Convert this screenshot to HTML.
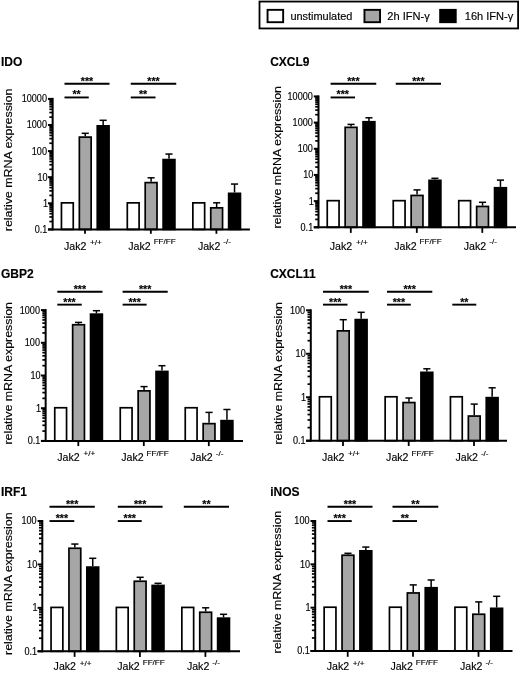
<!DOCTYPE html><html><head><meta charset="utf-8"><title>Figure</title><style>html,body{margin:0;padding:0;background:#fff}svg{display:block}text{font-family:"Liberation Sans", sans-serif;fill:#000;stroke:#000;stroke-width:0.15px}</style></head><body>
<svg width="520" height="673" viewBox="0 0 520 673">
<rect width="520" height="673" fill="#fff"/>
<rect x="259.5" y="1.55" width="258.6" height="26.9" fill="#fff" stroke="#000" stroke-width="1.8"/>
<rect x="267.55" y="9.85" width="15.6" height="12.35" fill="#fff" stroke="#000" stroke-width="1.9"/>
<rect x="364.45" y="9.85" width="15.6" height="12.35" fill="#a6a6a6" stroke="#000" stroke-width="1.9"/>
<rect x="440.15" y="9.85" width="15.6" height="12.35" fill="#000" stroke="#000" stroke-width="1.9"/>
<text x="290.4" y="20.2" font-size="11" textLength="62" lengthAdjust="spacingAndGlyphs">unstimulated</text>
<text x="387.3" y="20.2" font-size="11" textLength="42.5" lengthAdjust="spacingAndGlyphs">2h IFN-γ</text>
<text x="464.8" y="20.2" font-size="11" textLength="48.5" lengthAdjust="spacingAndGlyphs">16h IFN-γ</text>
<text transform="translate(0.8999999999999999,66.2) scale(0.97,1)" font-size="12.4" font-weight="bold">IDO</text>
<text transform="translate(12.2,231.2) rotate(-90)" font-size="11.3" textLength="142.6" lengthAdjust="spacingAndGlyphs">relative mRNA expression</text>
<line x1="47.95" y1="98.90" x2="52.65" y2="98.90" stroke="#000" stroke-width="2"/>
<text transform="translate(46.95,102.30) scale(0.9,1)" font-size="10.1" text-anchor="end">10000</text>
<line x1="49.35" y1="117.14" x2="52.65" y2="117.14" stroke="#000" stroke-width="1.7"/>
<line x1="49.35" y1="112.55" x2="52.65" y2="112.55" stroke="#000" stroke-width="1.7"/>
<line x1="49.35" y1="109.29" x2="52.65" y2="109.29" stroke="#000" stroke-width="1.7"/>
<line x1="49.35" y1="106.76" x2="52.65" y2="106.76" stroke="#000" stroke-width="1.7"/>
<line x1="49.35" y1="104.69" x2="52.65" y2="104.69" stroke="#000" stroke-width="1.7"/>
<line x1="49.35" y1="102.94" x2="52.65" y2="102.94" stroke="#000" stroke-width="1.7"/>
<line x1="49.35" y1="101.43" x2="52.65" y2="101.43" stroke="#000" stroke-width="1.7"/>
<line x1="49.35" y1="100.09" x2="52.65" y2="100.09" stroke="#000" stroke-width="1.7"/>
<line x1="47.95" y1="125.00" x2="52.65" y2="125.00" stroke="#000" stroke-width="2"/>
<text transform="translate(46.95,128.40) scale(0.9,1)" font-size="10.1" text-anchor="end">1000</text>
<line x1="49.35" y1="143.24" x2="52.65" y2="143.24" stroke="#000" stroke-width="1.7"/>
<line x1="49.35" y1="138.65" x2="52.65" y2="138.65" stroke="#000" stroke-width="1.7"/>
<line x1="49.35" y1="135.39" x2="52.65" y2="135.39" stroke="#000" stroke-width="1.7"/>
<line x1="49.35" y1="132.86" x2="52.65" y2="132.86" stroke="#000" stroke-width="1.7"/>
<line x1="49.35" y1="130.79" x2="52.65" y2="130.79" stroke="#000" stroke-width="1.7"/>
<line x1="49.35" y1="129.04" x2="52.65" y2="129.04" stroke="#000" stroke-width="1.7"/>
<line x1="49.35" y1="127.53" x2="52.65" y2="127.53" stroke="#000" stroke-width="1.7"/>
<line x1="49.35" y1="126.19" x2="52.65" y2="126.19" stroke="#000" stroke-width="1.7"/>
<line x1="47.95" y1="151.10" x2="52.65" y2="151.10" stroke="#000" stroke-width="2"/>
<text transform="translate(46.95,154.50) scale(0.9,1)" font-size="10.1" text-anchor="end">100</text>
<line x1="49.35" y1="169.34" x2="52.65" y2="169.34" stroke="#000" stroke-width="1.7"/>
<line x1="49.35" y1="164.75" x2="52.65" y2="164.75" stroke="#000" stroke-width="1.7"/>
<line x1="49.35" y1="161.49" x2="52.65" y2="161.49" stroke="#000" stroke-width="1.7"/>
<line x1="49.35" y1="158.96" x2="52.65" y2="158.96" stroke="#000" stroke-width="1.7"/>
<line x1="49.35" y1="156.89" x2="52.65" y2="156.89" stroke="#000" stroke-width="1.7"/>
<line x1="49.35" y1="155.14" x2="52.65" y2="155.14" stroke="#000" stroke-width="1.7"/>
<line x1="49.35" y1="153.63" x2="52.65" y2="153.63" stroke="#000" stroke-width="1.7"/>
<line x1="49.35" y1="152.29" x2="52.65" y2="152.29" stroke="#000" stroke-width="1.7"/>
<line x1="47.95" y1="177.20" x2="52.65" y2="177.20" stroke="#000" stroke-width="2"/>
<text transform="translate(47.55,180.60) scale(0.9,1)" font-size="10.1" text-anchor="end">10</text>
<line x1="49.35" y1="195.44" x2="52.65" y2="195.44" stroke="#000" stroke-width="1.7"/>
<line x1="49.35" y1="190.85" x2="52.65" y2="190.85" stroke="#000" stroke-width="1.7"/>
<line x1="49.35" y1="187.59" x2="52.65" y2="187.59" stroke="#000" stroke-width="1.7"/>
<line x1="49.35" y1="185.06" x2="52.65" y2="185.06" stroke="#000" stroke-width="1.7"/>
<line x1="49.35" y1="182.99" x2="52.65" y2="182.99" stroke="#000" stroke-width="1.7"/>
<line x1="49.35" y1="181.24" x2="52.65" y2="181.24" stroke="#000" stroke-width="1.7"/>
<line x1="49.35" y1="179.73" x2="52.65" y2="179.73" stroke="#000" stroke-width="1.7"/>
<line x1="49.35" y1="178.39" x2="52.65" y2="178.39" stroke="#000" stroke-width="1.7"/>
<line x1="47.95" y1="203.30" x2="52.65" y2="203.30" stroke="#000" stroke-width="2"/>
<text transform="translate(47.95,206.70) scale(0.9,1)" font-size="10.1" text-anchor="end">1</text>
<line x1="49.35" y1="221.54" x2="52.65" y2="221.54" stroke="#000" stroke-width="1.7"/>
<line x1="49.35" y1="216.95" x2="52.65" y2="216.95" stroke="#000" stroke-width="1.7"/>
<line x1="49.35" y1="213.69" x2="52.65" y2="213.69" stroke="#000" stroke-width="1.7"/>
<line x1="49.35" y1="211.16" x2="52.65" y2="211.16" stroke="#000" stroke-width="1.7"/>
<line x1="49.35" y1="209.09" x2="52.65" y2="209.09" stroke="#000" stroke-width="1.7"/>
<line x1="49.35" y1="207.34" x2="52.65" y2="207.34" stroke="#000" stroke-width="1.7"/>
<line x1="49.35" y1="205.83" x2="52.65" y2="205.83" stroke="#000" stroke-width="1.7"/>
<line x1="49.35" y1="204.49" x2="52.65" y2="204.49" stroke="#000" stroke-width="1.7"/>
<line x1="47.95" y1="229.40" x2="52.65" y2="229.40" stroke="#000" stroke-width="2"/>
<text transform="translate(47.35,232.80) scale(0.9,1)" font-size="10.1" text-anchor="end">0.1</text>
<rect x="61.45" y="202.85" width="11.8" height="26.55" fill="#fff" stroke="#000" stroke-width="1.7"/>
<line x1="85.25" y1="133.30" x2="85.25" y2="136.25" stroke="#000" stroke-width="1.5"/>
<line x1="81.70" y1="133.30" x2="88.80" y2="133.30" stroke="#000" stroke-width="1.5"/>
<rect x="79.35" y="137.10" width="11.8" height="92.30" fill="#a6a6a6" stroke="#000" stroke-width="1.7"/>
<line x1="103.15" y1="120.30" x2="103.15" y2="125.00" stroke="#000" stroke-width="1.5"/>
<line x1="99.60" y1="120.30" x2="106.70" y2="120.30" stroke="#000" stroke-width="1.5"/>
<rect x="97.25" y="125.85" width="11.8" height="103.55" fill="#000" stroke="#000" stroke-width="1.7"/>
<line x1="85.00" y1="229.4" x2="85.00" y2="233.8" stroke="#000" stroke-width="1.8"/>
<text x="64.00" y="249.7" font-size="10.6">Jak2</text>
<text transform="translate(90.10,244.95) scale(1.03,1)" font-size="7.9">+/+</text>
<rect x="127.30" y="202.85" width="11.8" height="26.55" fill="#fff" stroke="#000" stroke-width="1.7"/>
<line x1="151.10" y1="177.80" x2="151.10" y2="181.75" stroke="#000" stroke-width="1.5"/>
<line x1="147.55" y1="177.80" x2="154.65" y2="177.80" stroke="#000" stroke-width="1.5"/>
<rect x="145.20" y="182.60" width="11.8" height="46.80" fill="#a6a6a6" stroke="#000" stroke-width="1.7"/>
<line x1="169.00" y1="154.05" x2="169.00" y2="158.75" stroke="#000" stroke-width="1.5"/>
<line x1="165.45" y1="154.05" x2="172.55" y2="154.05" stroke="#000" stroke-width="1.5"/>
<rect x="163.10" y="159.60" width="11.8" height="69.80" fill="#000" stroke="#000" stroke-width="1.7"/>
<line x1="150.85" y1="229.4" x2="150.85" y2="233.8" stroke="#000" stroke-width="1.8"/>
<text x="128.25" y="249.7" font-size="10.6">Jak2</text>
<text transform="translate(153.65,244.45) scale(1.03,1)" font-size="7.9">FF/FF</text>
<rect x="192.85" y="202.85" width="11.8" height="26.55" fill="#fff" stroke="#000" stroke-width="1.7"/>
<line x1="216.65" y1="202.80" x2="216.65" y2="207.00" stroke="#000" stroke-width="1.5"/>
<line x1="213.10" y1="202.80" x2="220.20" y2="202.80" stroke="#000" stroke-width="1.5"/>
<rect x="210.75" y="207.85" width="11.8" height="21.55" fill="#a6a6a6" stroke="#000" stroke-width="1.7"/>
<line x1="234.55" y1="184.05" x2="234.55" y2="192.50" stroke="#000" stroke-width="1.5"/>
<line x1="231.00" y1="184.05" x2="238.10" y2="184.05" stroke="#000" stroke-width="1.5"/>
<rect x="228.65" y="193.35" width="11.8" height="36.05" fill="#000" stroke="#000" stroke-width="1.7"/>
<line x1="216.40" y1="229.4" x2="216.40" y2="233.8" stroke="#000" stroke-width="1.8"/>
<text x="197.90" y="249.7" font-size="10.6">Jak2</text>
<text transform="translate(223.30,244.45) scale(1.03,1)" font-size="7.9">-/-</text>
<line x1="52.65" y1="97.9" x2="52.65" y2="230.4" stroke="#000" stroke-width="2"/>
<line x1="47.95" y1="229.4" x2="249.9" y2="229.4" stroke="#000" stroke-width="2"/>
<line x1="64.5" y1="83.7" x2="109.5" y2="83.7" stroke="#000" stroke-width="1.9"/>
<text x="87.00" y="84.60" font-size="10.6" font-weight="bold" text-anchor="middle">***</text>
<line x1="64.5" y1="97.45" x2="88.75" y2="97.45" stroke="#000" stroke-width="1.9"/>
<text x="76.62" y="98.35" font-size="10.6" font-weight="bold" text-anchor="middle">**</text>
<line x1="130.75" y1="83.7" x2="176.25" y2="83.7" stroke="#000" stroke-width="1.9"/>
<text x="153.50" y="84.60" font-size="10.6" font-weight="bold" text-anchor="middle">***</text>
<line x1="130.75" y1="97.45" x2="155.5" y2="97.45" stroke="#000" stroke-width="1.9"/>
<text x="143.12" y="98.35" font-size="10.6" font-weight="bold" text-anchor="middle">**</text>
<text transform="translate(270.15,66.2) scale(0.97,1)" font-size="12.4" font-weight="bold">CXCL9</text>
<text transform="translate(281.3,228.6) rotate(-90)" font-size="11.3" textLength="142.6" lengthAdjust="spacingAndGlyphs">relative mRNA expression</text>
<line x1="313.80" y1="96.40" x2="318.5" y2="96.40" stroke="#000" stroke-width="2"/>
<text transform="translate(312.80,99.80) scale(0.9,1)" font-size="10.1" text-anchor="end">10000</text>
<line x1="315.20" y1="114.70" x2="318.5" y2="114.70" stroke="#000" stroke-width="1.7"/>
<line x1="315.20" y1="110.09" x2="318.5" y2="110.09" stroke="#000" stroke-width="1.7"/>
<line x1="315.20" y1="106.82" x2="318.5" y2="106.82" stroke="#000" stroke-width="1.7"/>
<line x1="315.20" y1="104.28" x2="318.5" y2="104.28" stroke="#000" stroke-width="1.7"/>
<line x1="315.20" y1="102.21" x2="318.5" y2="102.21" stroke="#000" stroke-width="1.7"/>
<line x1="315.20" y1="100.46" x2="318.5" y2="100.46" stroke="#000" stroke-width="1.7"/>
<line x1="315.20" y1="98.94" x2="318.5" y2="98.94" stroke="#000" stroke-width="1.7"/>
<line x1="315.20" y1="97.60" x2="318.5" y2="97.60" stroke="#000" stroke-width="1.7"/>
<line x1="313.80" y1="122.58" x2="318.5" y2="122.58" stroke="#000" stroke-width="2"/>
<text transform="translate(312.80,125.98) scale(0.9,1)" font-size="10.1" text-anchor="end">1000</text>
<line x1="315.20" y1="140.88" x2="318.5" y2="140.88" stroke="#000" stroke-width="1.7"/>
<line x1="315.20" y1="136.27" x2="318.5" y2="136.27" stroke="#000" stroke-width="1.7"/>
<line x1="315.20" y1="133.00" x2="318.5" y2="133.00" stroke="#000" stroke-width="1.7"/>
<line x1="315.20" y1="130.46" x2="318.5" y2="130.46" stroke="#000" stroke-width="1.7"/>
<line x1="315.20" y1="128.39" x2="318.5" y2="128.39" stroke="#000" stroke-width="1.7"/>
<line x1="315.20" y1="126.64" x2="318.5" y2="126.64" stroke="#000" stroke-width="1.7"/>
<line x1="315.20" y1="125.12" x2="318.5" y2="125.12" stroke="#000" stroke-width="1.7"/>
<line x1="315.20" y1="123.78" x2="318.5" y2="123.78" stroke="#000" stroke-width="1.7"/>
<line x1="313.80" y1="148.76" x2="318.5" y2="148.76" stroke="#000" stroke-width="2"/>
<text transform="translate(312.80,152.16) scale(0.9,1)" font-size="10.1" text-anchor="end">100</text>
<line x1="315.20" y1="167.06" x2="318.5" y2="167.06" stroke="#000" stroke-width="1.7"/>
<line x1="315.20" y1="162.45" x2="318.5" y2="162.45" stroke="#000" stroke-width="1.7"/>
<line x1="315.20" y1="159.18" x2="318.5" y2="159.18" stroke="#000" stroke-width="1.7"/>
<line x1="315.20" y1="156.64" x2="318.5" y2="156.64" stroke="#000" stroke-width="1.7"/>
<line x1="315.20" y1="154.57" x2="318.5" y2="154.57" stroke="#000" stroke-width="1.7"/>
<line x1="315.20" y1="152.82" x2="318.5" y2="152.82" stroke="#000" stroke-width="1.7"/>
<line x1="315.20" y1="151.30" x2="318.5" y2="151.30" stroke="#000" stroke-width="1.7"/>
<line x1="315.20" y1="149.96" x2="318.5" y2="149.96" stroke="#000" stroke-width="1.7"/>
<line x1="313.80" y1="174.94" x2="318.5" y2="174.94" stroke="#000" stroke-width="2"/>
<text transform="translate(313.40,178.34) scale(0.9,1)" font-size="10.1" text-anchor="end">10</text>
<line x1="315.20" y1="193.24" x2="318.5" y2="193.24" stroke="#000" stroke-width="1.7"/>
<line x1="315.20" y1="188.63" x2="318.5" y2="188.63" stroke="#000" stroke-width="1.7"/>
<line x1="315.20" y1="185.36" x2="318.5" y2="185.36" stroke="#000" stroke-width="1.7"/>
<line x1="315.20" y1="182.82" x2="318.5" y2="182.82" stroke="#000" stroke-width="1.7"/>
<line x1="315.20" y1="180.75" x2="318.5" y2="180.75" stroke="#000" stroke-width="1.7"/>
<line x1="315.20" y1="179.00" x2="318.5" y2="179.00" stroke="#000" stroke-width="1.7"/>
<line x1="315.20" y1="177.48" x2="318.5" y2="177.48" stroke="#000" stroke-width="1.7"/>
<line x1="315.20" y1="176.14" x2="318.5" y2="176.14" stroke="#000" stroke-width="1.7"/>
<line x1="313.80" y1="201.12" x2="318.5" y2="201.12" stroke="#000" stroke-width="2"/>
<text transform="translate(313.80,204.52) scale(0.9,1)" font-size="10.1" text-anchor="end">1</text>
<line x1="315.20" y1="219.42" x2="318.5" y2="219.42" stroke="#000" stroke-width="1.7"/>
<line x1="315.20" y1="214.81" x2="318.5" y2="214.81" stroke="#000" stroke-width="1.7"/>
<line x1="315.20" y1="211.54" x2="318.5" y2="211.54" stroke="#000" stroke-width="1.7"/>
<line x1="315.20" y1="209.00" x2="318.5" y2="209.00" stroke="#000" stroke-width="1.7"/>
<line x1="315.20" y1="206.93" x2="318.5" y2="206.93" stroke="#000" stroke-width="1.7"/>
<line x1="315.20" y1="205.18" x2="318.5" y2="205.18" stroke="#000" stroke-width="1.7"/>
<line x1="315.20" y1="203.66" x2="318.5" y2="203.66" stroke="#000" stroke-width="1.7"/>
<line x1="315.20" y1="202.32" x2="318.5" y2="202.32" stroke="#000" stroke-width="1.7"/>
<line x1="313.80" y1="227.30" x2="318.5" y2="227.30" stroke="#000" stroke-width="2"/>
<text transform="translate(313.20,230.70) scale(0.9,1)" font-size="10.1" text-anchor="end">0.1</text>
<rect x="327.25" y="200.67" width="11.8" height="26.63" fill="#fff" stroke="#000" stroke-width="1.7"/>
<line x1="351.05" y1="124.40" x2="351.05" y2="126.50" stroke="#000" stroke-width="1.5"/>
<line x1="347.50" y1="124.40" x2="354.60" y2="124.40" stroke="#000" stroke-width="1.5"/>
<rect x="345.15" y="127.35" width="11.8" height="99.95" fill="#a6a6a6" stroke="#000" stroke-width="1.7"/>
<line x1="368.95" y1="117.80" x2="368.95" y2="120.90" stroke="#000" stroke-width="1.5"/>
<line x1="365.40" y1="117.80" x2="372.50" y2="117.80" stroke="#000" stroke-width="1.5"/>
<rect x="363.05" y="121.75" width="11.8" height="105.55" fill="#000" stroke="#000" stroke-width="1.7"/>
<line x1="350.80" y1="227.3" x2="350.80" y2="232.9" stroke="#000" stroke-width="1.8"/>
<text x="329.80" y="249.7" font-size="10.6">Jak2</text>
<text transform="translate(355.90,244.95) scale(1.03,1)" font-size="7.9">+/+</text>
<rect x="393.25" y="200.67" width="11.8" height="26.63" fill="#fff" stroke="#000" stroke-width="1.7"/>
<line x1="417.05" y1="189.90" x2="417.05" y2="194.60" stroke="#000" stroke-width="1.5"/>
<line x1="413.50" y1="189.90" x2="420.60" y2="189.90" stroke="#000" stroke-width="1.5"/>
<rect x="411.15" y="195.45" width="11.8" height="31.85" fill="#a6a6a6" stroke="#000" stroke-width="1.7"/>
<line x1="434.95" y1="178.30" x2="434.95" y2="179.50" stroke="#000" stroke-width="1.5"/>
<line x1="431.40" y1="178.30" x2="438.50" y2="178.30" stroke="#000" stroke-width="1.5"/>
<rect x="429.05" y="180.35" width="11.8" height="46.95" fill="#000" stroke="#000" stroke-width="1.7"/>
<line x1="416.80" y1="227.3" x2="416.80" y2="232.9" stroke="#000" stroke-width="1.8"/>
<text x="394.20" y="249.7" font-size="10.6">Jak2</text>
<text transform="translate(419.60,244.45) scale(1.03,1)" font-size="7.9">FF/FF</text>
<rect x="458.75" y="200.67" width="11.8" height="26.63" fill="#fff" stroke="#000" stroke-width="1.7"/>
<line x1="482.55" y1="202.30" x2="482.55" y2="205.60" stroke="#000" stroke-width="1.5"/>
<line x1="479.00" y1="202.30" x2="486.10" y2="202.30" stroke="#000" stroke-width="1.5"/>
<rect x="476.65" y="206.45" width="11.8" height="20.85" fill="#a6a6a6" stroke="#000" stroke-width="1.7"/>
<line x1="500.45" y1="180.10" x2="500.45" y2="186.90" stroke="#000" stroke-width="1.5"/>
<line x1="496.90" y1="180.10" x2="504.00" y2="180.10" stroke="#000" stroke-width="1.5"/>
<rect x="494.55" y="187.75" width="11.8" height="39.55" fill="#000" stroke="#000" stroke-width="1.7"/>
<line x1="482.30" y1="227.3" x2="482.30" y2="232.9" stroke="#000" stroke-width="1.8"/>
<text x="463.80" y="249.7" font-size="10.6">Jak2</text>
<text transform="translate(489.20,244.45) scale(1.03,1)" font-size="7.9">-/-</text>
<line x1="318.5" y1="95.4" x2="318.5" y2="228.3" stroke="#000" stroke-width="2"/>
<line x1="313.80" y1="227.3" x2="516" y2="227.3" stroke="#000" stroke-width="2"/>
<line x1="330.6" y1="83.7" x2="376.25" y2="83.7" stroke="#000" stroke-width="1.9"/>
<text x="353.43" y="84.60" font-size="10.6" font-weight="bold" text-anchor="middle">***</text>
<line x1="330.6" y1="97.45" x2="355" y2="97.45" stroke="#000" stroke-width="1.9"/>
<text x="342.80" y="98.35" font-size="10.6" font-weight="bold" text-anchor="middle">***</text>
<line x1="395.75" y1="83.7" x2="441" y2="83.7" stroke="#000" stroke-width="1.9"/>
<text x="418.38" y="84.60" font-size="10.6" font-weight="bold" text-anchor="middle">***</text>
<text transform="translate(0.8999999999999999,277.7) scale(0.97,1)" font-size="12.4" font-weight="bold">GBP2</text>
<text transform="translate(12.4,444.6) rotate(-90)" font-size="11.3" textLength="142.6" lengthAdjust="spacingAndGlyphs">relative mRNA expression</text>
<line x1="40.95" y1="310.10" x2="45.65" y2="310.10" stroke="#000" stroke-width="2"/>
<text transform="translate(39.95,313.50) scale(0.9,1)" font-size="10.1" text-anchor="end">1000</text>
<line x1="42.35" y1="332.96" x2="45.65" y2="332.96" stroke="#000" stroke-width="1.7"/>
<line x1="42.35" y1="327.20" x2="45.65" y2="327.20" stroke="#000" stroke-width="1.7"/>
<line x1="42.35" y1="323.11" x2="45.65" y2="323.11" stroke="#000" stroke-width="1.7"/>
<line x1="42.35" y1="319.94" x2="45.65" y2="319.94" stroke="#000" stroke-width="1.7"/>
<line x1="42.35" y1="317.35" x2="45.65" y2="317.35" stroke="#000" stroke-width="1.7"/>
<line x1="42.35" y1="315.17" x2="45.65" y2="315.17" stroke="#000" stroke-width="1.7"/>
<line x1="42.35" y1="313.27" x2="45.65" y2="313.27" stroke="#000" stroke-width="1.7"/>
<line x1="42.35" y1="311.60" x2="45.65" y2="311.60" stroke="#000" stroke-width="1.7"/>
<line x1="40.95" y1="342.80" x2="45.65" y2="342.80" stroke="#000" stroke-width="2"/>
<text transform="translate(39.95,346.20) scale(0.9,1)" font-size="10.1" text-anchor="end">100</text>
<line x1="42.35" y1="365.66" x2="45.65" y2="365.66" stroke="#000" stroke-width="1.7"/>
<line x1="42.35" y1="359.90" x2="45.65" y2="359.90" stroke="#000" stroke-width="1.7"/>
<line x1="42.35" y1="355.81" x2="45.65" y2="355.81" stroke="#000" stroke-width="1.7"/>
<line x1="42.35" y1="352.64" x2="45.65" y2="352.64" stroke="#000" stroke-width="1.7"/>
<line x1="42.35" y1="350.05" x2="45.65" y2="350.05" stroke="#000" stroke-width="1.7"/>
<line x1="42.35" y1="347.87" x2="45.65" y2="347.87" stroke="#000" stroke-width="1.7"/>
<line x1="42.35" y1="345.97" x2="45.65" y2="345.97" stroke="#000" stroke-width="1.7"/>
<line x1="42.35" y1="344.30" x2="45.65" y2="344.30" stroke="#000" stroke-width="1.7"/>
<line x1="40.95" y1="375.50" x2="45.65" y2="375.50" stroke="#000" stroke-width="2"/>
<text transform="translate(40.55,378.90) scale(0.9,1)" font-size="10.1" text-anchor="end">10</text>
<line x1="42.35" y1="398.36" x2="45.65" y2="398.36" stroke="#000" stroke-width="1.7"/>
<line x1="42.35" y1="392.60" x2="45.65" y2="392.60" stroke="#000" stroke-width="1.7"/>
<line x1="42.35" y1="388.51" x2="45.65" y2="388.51" stroke="#000" stroke-width="1.7"/>
<line x1="42.35" y1="385.34" x2="45.65" y2="385.34" stroke="#000" stroke-width="1.7"/>
<line x1="42.35" y1="382.75" x2="45.65" y2="382.75" stroke="#000" stroke-width="1.7"/>
<line x1="42.35" y1="380.57" x2="45.65" y2="380.57" stroke="#000" stroke-width="1.7"/>
<line x1="42.35" y1="378.67" x2="45.65" y2="378.67" stroke="#000" stroke-width="1.7"/>
<line x1="42.35" y1="377.00" x2="45.65" y2="377.00" stroke="#000" stroke-width="1.7"/>
<line x1="40.95" y1="408.20" x2="45.65" y2="408.20" stroke="#000" stroke-width="2"/>
<text transform="translate(40.95,411.60) scale(0.9,1)" font-size="10.1" text-anchor="end">1</text>
<line x1="42.35" y1="431.06" x2="45.65" y2="431.06" stroke="#000" stroke-width="1.7"/>
<line x1="42.35" y1="425.30" x2="45.65" y2="425.30" stroke="#000" stroke-width="1.7"/>
<line x1="42.35" y1="421.21" x2="45.65" y2="421.21" stroke="#000" stroke-width="1.7"/>
<line x1="42.35" y1="418.04" x2="45.65" y2="418.04" stroke="#000" stroke-width="1.7"/>
<line x1="42.35" y1="415.45" x2="45.65" y2="415.45" stroke="#000" stroke-width="1.7"/>
<line x1="42.35" y1="413.27" x2="45.65" y2="413.27" stroke="#000" stroke-width="1.7"/>
<line x1="42.35" y1="411.37" x2="45.65" y2="411.37" stroke="#000" stroke-width="1.7"/>
<line x1="42.35" y1="409.70" x2="45.65" y2="409.70" stroke="#000" stroke-width="1.7"/>
<line x1="40.95" y1="440.90" x2="45.65" y2="440.90" stroke="#000" stroke-width="2"/>
<text transform="translate(40.35,444.30) scale(0.9,1)" font-size="10.1" text-anchor="end">0.1</text>
<rect x="54.75" y="407.75" width="11.8" height="33.15" fill="#fff" stroke="#000" stroke-width="1.7"/>
<line x1="78.55" y1="322.40" x2="78.55" y2="323.90" stroke="#000" stroke-width="1.5"/>
<line x1="75.00" y1="322.40" x2="82.10" y2="322.40" stroke="#000" stroke-width="1.5"/>
<rect x="72.65" y="324.75" width="11.8" height="116.15" fill="#a6a6a6" stroke="#000" stroke-width="1.7"/>
<line x1="96.45" y1="310.70" x2="96.45" y2="313.30" stroke="#000" stroke-width="1.5"/>
<line x1="92.90" y1="310.70" x2="100.00" y2="310.70" stroke="#000" stroke-width="1.5"/>
<rect x="90.55" y="314.15" width="11.8" height="126.75" fill="#000" stroke="#000" stroke-width="1.7"/>
<line x1="78.30" y1="440.9" x2="78.30" y2="446.09999999999997" stroke="#000" stroke-width="1.8"/>
<text x="57.30" y="461.2" font-size="10.6">Jak2</text>
<text transform="translate(83.40,456.45) scale(1.03,1)" font-size="7.9">+/+</text>
<rect x="120.25" y="407.75" width="11.8" height="33.15" fill="#fff" stroke="#000" stroke-width="1.7"/>
<line x1="144.05" y1="386.60" x2="144.05" y2="390.00" stroke="#000" stroke-width="1.5"/>
<line x1="140.50" y1="386.60" x2="147.60" y2="386.60" stroke="#000" stroke-width="1.5"/>
<rect x="138.15" y="390.85" width="11.8" height="50.05" fill="#a6a6a6" stroke="#000" stroke-width="1.7"/>
<line x1="161.95" y1="365.70" x2="161.95" y2="370.60" stroke="#000" stroke-width="1.5"/>
<line x1="158.40" y1="365.70" x2="165.50" y2="365.70" stroke="#000" stroke-width="1.5"/>
<rect x="156.05" y="371.45" width="11.8" height="69.45" fill="#000" stroke="#000" stroke-width="1.7"/>
<line x1="143.80" y1="440.9" x2="143.80" y2="446.09999999999997" stroke="#000" stroke-width="1.8"/>
<text x="121.20" y="461.2" font-size="10.6">Jak2</text>
<text transform="translate(146.60,455.95) scale(1.03,1)" font-size="7.9">FF/FF</text>
<rect x="185.25" y="407.75" width="11.8" height="33.15" fill="#fff" stroke="#000" stroke-width="1.7"/>
<line x1="209.05" y1="412.40" x2="209.05" y2="422.80" stroke="#000" stroke-width="1.5"/>
<line x1="205.50" y1="412.40" x2="212.60" y2="412.40" stroke="#000" stroke-width="1.5"/>
<rect x="203.15" y="423.65" width="11.8" height="17.25" fill="#a6a6a6" stroke="#000" stroke-width="1.7"/>
<line x1="226.95" y1="409.50" x2="226.95" y2="419.80" stroke="#000" stroke-width="1.5"/>
<line x1="223.40" y1="409.50" x2="230.50" y2="409.50" stroke="#000" stroke-width="1.5"/>
<rect x="221.05" y="420.65" width="11.8" height="20.25" fill="#000" stroke="#000" stroke-width="1.7"/>
<line x1="208.80" y1="440.9" x2="208.80" y2="446.09999999999997" stroke="#000" stroke-width="1.8"/>
<text x="190.30" y="461.2" font-size="10.6">Jak2</text>
<text transform="translate(215.70,455.95) scale(1.03,1)" font-size="7.9">-/-</text>
<line x1="45.65" y1="309.1" x2="45.65" y2="441.9" stroke="#000" stroke-width="2"/>
<line x1="40.95" y1="440.9" x2="243" y2="440.9" stroke="#000" stroke-width="2"/>
<line x1="57.3" y1="291.7" x2="102.5" y2="291.7" stroke="#000" stroke-width="1.9"/>
<text x="79.90" y="292.60" font-size="10.6" font-weight="bold" text-anchor="middle">***</text>
<line x1="57.3" y1="304.65" x2="81.75" y2="304.65" stroke="#000" stroke-width="1.9"/>
<text x="69.53" y="305.55" font-size="10.6" font-weight="bold" text-anchor="middle">***</text>
<line x1="122.6" y1="291.7" x2="167.7" y2="291.7" stroke="#000" stroke-width="1.9"/>
<text x="145.15" y="292.60" font-size="10.6" font-weight="bold" text-anchor="middle">***</text>
<line x1="122.6" y1="304.65" x2="146.6" y2="304.65" stroke="#000" stroke-width="1.9"/>
<text x="134.60" y="305.55" font-size="10.6" font-weight="bold" text-anchor="middle">***</text>
<text transform="translate(270.15,278.2) scale(0.97,1)" font-size="12.4" font-weight="bold">CXCL11</text>
<text transform="translate(281.5,444.6) rotate(-90)" font-size="11.3" textLength="142.6" lengthAdjust="spacingAndGlyphs">relative mRNA expression</text>
<line x1="306.10" y1="310.30" x2="310.8" y2="310.30" stroke="#000" stroke-width="2"/>
<text transform="translate(305.10,313.70) scale(0.9,1)" font-size="10.1" text-anchor="end">100</text>
<line x1="307.50" y1="340.68" x2="310.8" y2="340.68" stroke="#000" stroke-width="1.7"/>
<line x1="307.50" y1="333.03" x2="310.8" y2="333.03" stroke="#000" stroke-width="1.7"/>
<line x1="307.50" y1="327.60" x2="310.8" y2="327.60" stroke="#000" stroke-width="1.7"/>
<line x1="307.50" y1="323.38" x2="310.8" y2="323.38" stroke="#000" stroke-width="1.7"/>
<line x1="307.50" y1="319.94" x2="310.8" y2="319.94" stroke="#000" stroke-width="1.7"/>
<line x1="307.50" y1="317.03" x2="310.8" y2="317.03" stroke="#000" stroke-width="1.7"/>
<line x1="307.50" y1="314.51" x2="310.8" y2="314.51" stroke="#000" stroke-width="1.7"/>
<line x1="307.50" y1="312.29" x2="310.8" y2="312.29" stroke="#000" stroke-width="1.7"/>
<line x1="306.10" y1="353.77" x2="310.8" y2="353.77" stroke="#000" stroke-width="2"/>
<text transform="translate(305.70,357.17) scale(0.9,1)" font-size="10.1" text-anchor="end">10</text>
<line x1="307.50" y1="384.15" x2="310.8" y2="384.15" stroke="#000" stroke-width="1.7"/>
<line x1="307.50" y1="376.49" x2="310.8" y2="376.49" stroke="#000" stroke-width="1.7"/>
<line x1="307.50" y1="371.06" x2="310.8" y2="371.06" stroke="#000" stroke-width="1.7"/>
<line x1="307.50" y1="366.85" x2="310.8" y2="366.85" stroke="#000" stroke-width="1.7"/>
<line x1="307.50" y1="363.41" x2="310.8" y2="363.41" stroke="#000" stroke-width="1.7"/>
<line x1="307.50" y1="360.50" x2="310.8" y2="360.50" stroke="#000" stroke-width="1.7"/>
<line x1="307.50" y1="357.98" x2="310.8" y2="357.98" stroke="#000" stroke-width="1.7"/>
<line x1="307.50" y1="355.76" x2="310.8" y2="355.76" stroke="#000" stroke-width="1.7"/>
<line x1="306.10" y1="397.23" x2="310.8" y2="397.23" stroke="#000" stroke-width="2"/>
<text transform="translate(306.10,400.63) scale(0.9,1)" font-size="10.1" text-anchor="end">1</text>
<line x1="307.50" y1="427.62" x2="310.8" y2="427.62" stroke="#000" stroke-width="1.7"/>
<line x1="307.50" y1="419.96" x2="310.8" y2="419.96" stroke="#000" stroke-width="1.7"/>
<line x1="307.50" y1="414.53" x2="310.8" y2="414.53" stroke="#000" stroke-width="1.7"/>
<line x1="307.50" y1="410.32" x2="310.8" y2="410.32" stroke="#000" stroke-width="1.7"/>
<line x1="307.50" y1="406.88" x2="310.8" y2="406.88" stroke="#000" stroke-width="1.7"/>
<line x1="307.50" y1="403.97" x2="310.8" y2="403.97" stroke="#000" stroke-width="1.7"/>
<line x1="307.50" y1="401.45" x2="310.8" y2="401.45" stroke="#000" stroke-width="1.7"/>
<line x1="307.50" y1="399.22" x2="310.8" y2="399.22" stroke="#000" stroke-width="1.7"/>
<line x1="306.10" y1="440.70" x2="310.8" y2="440.70" stroke="#000" stroke-width="2"/>
<text transform="translate(305.50,444.10) scale(0.9,1)" font-size="10.1" text-anchor="end">0.1</text>
<rect x="319.45" y="396.78" width="11.8" height="43.92" fill="#fff" stroke="#000" stroke-width="1.7"/>
<line x1="343.25" y1="319.70" x2="343.25" y2="330.00" stroke="#000" stroke-width="1.5"/>
<line x1="339.70" y1="319.70" x2="346.80" y2="319.70" stroke="#000" stroke-width="1.5"/>
<rect x="337.35" y="330.85" width="11.8" height="109.85" fill="#a6a6a6" stroke="#000" stroke-width="1.7"/>
<line x1="361.15" y1="312.30" x2="361.15" y2="318.75" stroke="#000" stroke-width="1.5"/>
<line x1="357.60" y1="312.30" x2="364.70" y2="312.30" stroke="#000" stroke-width="1.5"/>
<rect x="355.25" y="319.60" width="11.8" height="121.10" fill="#000" stroke="#000" stroke-width="1.7"/>
<line x1="343.00" y1="440.7" x2="343.00" y2="446.0" stroke="#000" stroke-width="1.8"/>
<text x="322.00" y="461.2" font-size="10.6">Jak2</text>
<text transform="translate(348.10,456.45) scale(1.03,1)" font-size="7.9">+/+</text>
<rect x="385.15" y="396.78" width="11.8" height="43.92" fill="#fff" stroke="#000" stroke-width="1.7"/>
<line x1="408.95" y1="398.00" x2="408.95" y2="401.70" stroke="#000" stroke-width="1.5"/>
<line x1="405.40" y1="398.00" x2="412.50" y2="398.00" stroke="#000" stroke-width="1.5"/>
<rect x="403.05" y="402.55" width="11.8" height="38.15" fill="#a6a6a6" stroke="#000" stroke-width="1.7"/>
<line x1="426.85" y1="368.80" x2="426.85" y2="371.50" stroke="#000" stroke-width="1.5"/>
<line x1="423.30" y1="368.80" x2="430.40" y2="368.80" stroke="#000" stroke-width="1.5"/>
<rect x="420.95" y="372.35" width="11.8" height="68.35" fill="#000" stroke="#000" stroke-width="1.7"/>
<line x1="408.70" y1="440.7" x2="408.70" y2="446.0" stroke="#000" stroke-width="1.8"/>
<text x="386.10" y="461.2" font-size="10.6">Jak2</text>
<text transform="translate(411.50,455.95) scale(1.03,1)" font-size="7.9">FF/FF</text>
<rect x="450.45" y="396.78" width="11.8" height="43.92" fill="#fff" stroke="#000" stroke-width="1.7"/>
<line x1="474.25" y1="404.10" x2="474.25" y2="415.20" stroke="#000" stroke-width="1.5"/>
<line x1="470.70" y1="404.10" x2="477.80" y2="404.10" stroke="#000" stroke-width="1.5"/>
<rect x="468.35" y="416.05" width="11.8" height="24.65" fill="#a6a6a6" stroke="#000" stroke-width="1.7"/>
<line x1="492.15" y1="387.80" x2="492.15" y2="396.80" stroke="#000" stroke-width="1.5"/>
<line x1="488.60" y1="387.80" x2="495.70" y2="387.80" stroke="#000" stroke-width="1.5"/>
<rect x="486.25" y="397.65" width="11.8" height="43.05" fill="#000" stroke="#000" stroke-width="1.7"/>
<line x1="474.00" y1="440.7" x2="474.00" y2="446.0" stroke="#000" stroke-width="1.8"/>
<text x="455.50" y="461.2" font-size="10.6">Jak2</text>
<text transform="translate(480.90,455.95) scale(1.03,1)" font-size="7.9">-/-</text>
<line x1="310.8" y1="309.3" x2="310.8" y2="441.7" stroke="#000" stroke-width="2"/>
<line x1="306.10" y1="440.7" x2="507" y2="440.7" stroke="#000" stroke-width="2"/>
<line x1="323" y1="291.7" x2="368.75" y2="291.7" stroke="#000" stroke-width="1.9"/>
<text x="345.88" y="292.60" font-size="10.6" font-weight="bold" text-anchor="middle">***</text>
<line x1="323" y1="304.65" x2="347.5" y2="304.65" stroke="#000" stroke-width="1.9"/>
<text x="335.25" y="305.55" font-size="10.6" font-weight="bold" text-anchor="middle">***</text>
<line x1="387" y1="291.7" x2="432.3" y2="291.7" stroke="#000" stroke-width="1.9"/>
<text x="409.65" y="292.60" font-size="10.6" font-weight="bold" text-anchor="middle">***</text>
<line x1="387" y1="304.65" x2="410.8" y2="304.65" stroke="#000" stroke-width="1.9"/>
<text x="398.90" y="305.55" font-size="10.6" font-weight="bold" text-anchor="middle">***</text>
<line x1="452.3" y1="304.65" x2="476.3" y2="304.65" stroke="#000" stroke-width="1.9"/>
<text x="464.30" y="305.55" font-size="10.6" font-weight="bold" text-anchor="middle">**</text>
<text transform="translate(0.8999999999999999,495.95) scale(0.97,1)" font-size="12.4" font-weight="bold">IRF1</text>
<text transform="translate(12.2,655.0) rotate(-90)" font-size="11.3" textLength="142.6" lengthAdjust="spacingAndGlyphs">relative mRNA expression</text>
<line x1="37.60" y1="521.00" x2="42.3" y2="521.00" stroke="#000" stroke-width="2"/>
<text transform="translate(36.60,524.40) scale(0.9,1)" font-size="10.1" text-anchor="end">100</text>
<line x1="39.00" y1="551.36" x2="42.3" y2="551.36" stroke="#000" stroke-width="1.7"/>
<line x1="39.00" y1="543.71" x2="42.3" y2="543.71" stroke="#000" stroke-width="1.7"/>
<line x1="39.00" y1="538.28" x2="42.3" y2="538.28" stroke="#000" stroke-width="1.7"/>
<line x1="39.00" y1="534.07" x2="42.3" y2="534.07" stroke="#000" stroke-width="1.7"/>
<line x1="39.00" y1="530.64" x2="42.3" y2="530.64" stroke="#000" stroke-width="1.7"/>
<line x1="39.00" y1="527.73" x2="42.3" y2="527.73" stroke="#000" stroke-width="1.7"/>
<line x1="39.00" y1="525.21" x2="42.3" y2="525.21" stroke="#000" stroke-width="1.7"/>
<line x1="39.00" y1="522.99" x2="42.3" y2="522.99" stroke="#000" stroke-width="1.7"/>
<line x1="37.60" y1="564.43" x2="42.3" y2="564.43" stroke="#000" stroke-width="2"/>
<text transform="translate(37.20,567.83) scale(0.9,1)" font-size="10.1" text-anchor="end">10</text>
<line x1="39.00" y1="594.79" x2="42.3" y2="594.79" stroke="#000" stroke-width="1.7"/>
<line x1="39.00" y1="587.14" x2="42.3" y2="587.14" stroke="#000" stroke-width="1.7"/>
<line x1="39.00" y1="581.72" x2="42.3" y2="581.72" stroke="#000" stroke-width="1.7"/>
<line x1="39.00" y1="577.51" x2="42.3" y2="577.51" stroke="#000" stroke-width="1.7"/>
<line x1="39.00" y1="574.07" x2="42.3" y2="574.07" stroke="#000" stroke-width="1.7"/>
<line x1="39.00" y1="571.16" x2="42.3" y2="571.16" stroke="#000" stroke-width="1.7"/>
<line x1="39.00" y1="568.64" x2="42.3" y2="568.64" stroke="#000" stroke-width="1.7"/>
<line x1="39.00" y1="566.42" x2="42.3" y2="566.42" stroke="#000" stroke-width="1.7"/>
<line x1="37.60" y1="607.87" x2="42.3" y2="607.87" stroke="#000" stroke-width="2"/>
<text transform="translate(37.60,611.27) scale(0.9,1)" font-size="10.1" text-anchor="end">1</text>
<line x1="39.00" y1="638.23" x2="42.3" y2="638.23" stroke="#000" stroke-width="1.7"/>
<line x1="39.00" y1="630.58" x2="42.3" y2="630.58" stroke="#000" stroke-width="1.7"/>
<line x1="39.00" y1="625.15" x2="42.3" y2="625.15" stroke="#000" stroke-width="1.7"/>
<line x1="39.00" y1="620.94" x2="42.3" y2="620.94" stroke="#000" stroke-width="1.7"/>
<line x1="39.00" y1="617.50" x2="42.3" y2="617.50" stroke="#000" stroke-width="1.7"/>
<line x1="39.00" y1="614.59" x2="42.3" y2="614.59" stroke="#000" stroke-width="1.7"/>
<line x1="39.00" y1="612.08" x2="42.3" y2="612.08" stroke="#000" stroke-width="1.7"/>
<line x1="39.00" y1="609.85" x2="42.3" y2="609.85" stroke="#000" stroke-width="1.7"/>
<line x1="37.60" y1="651.30" x2="42.3" y2="651.30" stroke="#000" stroke-width="2"/>
<text transform="translate(37.00,654.70) scale(0.9,1)" font-size="10.1" text-anchor="end">0.1</text>
<rect x="51.05" y="607.42" width="11.8" height="43.88" fill="#fff" stroke="#000" stroke-width="1.7"/>
<line x1="74.85" y1="544.05" x2="74.85" y2="547.40" stroke="#000" stroke-width="1.5"/>
<line x1="71.30" y1="544.05" x2="78.40" y2="544.05" stroke="#000" stroke-width="1.5"/>
<rect x="68.95" y="548.25" width="11.8" height="103.05" fill="#a6a6a6" stroke="#000" stroke-width="1.7"/>
<line x1="92.75" y1="558.30" x2="92.75" y2="566.25" stroke="#000" stroke-width="1.5"/>
<line x1="89.20" y1="558.30" x2="96.30" y2="558.30" stroke="#000" stroke-width="1.5"/>
<rect x="86.85" y="567.10" width="11.8" height="84.20" fill="#000" stroke="#000" stroke-width="1.7"/>
<line x1="74.60" y1="651.3" x2="74.60" y2="656.9" stroke="#000" stroke-width="1.8"/>
<text x="53.60" y="670.4" font-size="10.6">Jak2</text>
<text transform="translate(79.70,665.65) scale(1.03,1)" font-size="7.9">+/+</text>
<rect x="116.35" y="607.42" width="11.8" height="43.88" fill="#fff" stroke="#000" stroke-width="1.7"/>
<line x1="140.15" y1="577.30" x2="140.15" y2="580.40" stroke="#000" stroke-width="1.5"/>
<line x1="136.60" y1="577.30" x2="143.70" y2="577.30" stroke="#000" stroke-width="1.5"/>
<rect x="134.25" y="581.25" width="11.8" height="70.05" fill="#a6a6a6" stroke="#000" stroke-width="1.7"/>
<line x1="158.05" y1="583.30" x2="158.05" y2="584.60" stroke="#000" stroke-width="1.5"/>
<line x1="154.50" y1="583.30" x2="161.60" y2="583.30" stroke="#000" stroke-width="1.5"/>
<rect x="152.15" y="585.45" width="11.8" height="65.85" fill="#000" stroke="#000" stroke-width="1.7"/>
<line x1="139.90" y1="651.3" x2="139.90" y2="656.9" stroke="#000" stroke-width="1.8"/>
<text x="117.30" y="670.4" font-size="10.6">Jak2</text>
<text transform="translate(142.70,665.15) scale(1.03,1)" font-size="7.9">FF/FF</text>
<rect x="181.85" y="607.42" width="11.8" height="43.88" fill="#fff" stroke="#000" stroke-width="1.7"/>
<line x1="205.65" y1="607.80" x2="205.65" y2="611.40" stroke="#000" stroke-width="1.5"/>
<line x1="202.10" y1="607.80" x2="209.20" y2="607.80" stroke="#000" stroke-width="1.5"/>
<rect x="199.75" y="612.25" width="11.8" height="39.05" fill="#a6a6a6" stroke="#000" stroke-width="1.7"/>
<line x1="223.55" y1="614.30" x2="223.55" y2="617.30" stroke="#000" stroke-width="1.5"/>
<line x1="220.00" y1="614.30" x2="227.10" y2="614.30" stroke="#000" stroke-width="1.5"/>
<rect x="217.65" y="618.15" width="11.8" height="33.15" fill="#000" stroke="#000" stroke-width="1.7"/>
<line x1="205.40" y1="651.3" x2="205.40" y2="656.9" stroke="#000" stroke-width="1.8"/>
<text x="186.90" y="670.4" font-size="10.6">Jak2</text>
<text transform="translate(212.30,665.15) scale(1.03,1)" font-size="7.9">-/-</text>
<line x1="42.3" y1="520" x2="42.3" y2="652.3" stroke="#000" stroke-width="2"/>
<line x1="37.60" y1="651.3" x2="240" y2="651.3" stroke="#000" stroke-width="2"/>
<line x1="49.5" y1="506.75" x2="94.8" y2="506.75" stroke="#000" stroke-width="1.9"/>
<text x="72.15" y="507.65" font-size="10.6" font-weight="bold" text-anchor="middle">***</text>
<line x1="49.5" y1="521.05" x2="74.25" y2="521.05" stroke="#000" stroke-width="1.9"/>
<text x="61.88" y="521.95" font-size="10.6" font-weight="bold" text-anchor="middle">***</text>
<line x1="117.8" y1="506.75" x2="162.6" y2="506.75" stroke="#000" stroke-width="1.9"/>
<text x="140.20" y="507.65" font-size="10.6" font-weight="bold" text-anchor="middle">***</text>
<line x1="117.8" y1="521.05" x2="141.7" y2="521.05" stroke="#000" stroke-width="1.9"/>
<text x="129.75" y="521.95" font-size="10.6" font-weight="bold" text-anchor="middle">***</text>
<line x1="183.8" y1="506.75" x2="229" y2="506.75" stroke="#000" stroke-width="1.9"/>
<text x="206.40" y="507.65" font-size="10.6" font-weight="bold" text-anchor="middle">**</text>
<text transform="translate(270.15,495.95) scale(0.97,1)" font-size="12.4" font-weight="bold">iNOS</text>
<text transform="translate(281.3,653.4) rotate(-90)" font-size="11.3" textLength="142.6" lengthAdjust="spacingAndGlyphs">relative mRNA expression</text>
<line x1="310.50" y1="521.00" x2="315.2" y2="521.00" stroke="#000" stroke-width="2"/>
<text transform="translate(309.50,524.40) scale(0.9,1)" font-size="10.1" text-anchor="end">100</text>
<line x1="311.90" y1="551.29" x2="315.2" y2="551.29" stroke="#000" stroke-width="1.7"/>
<line x1="311.90" y1="543.66" x2="315.2" y2="543.66" stroke="#000" stroke-width="1.7"/>
<line x1="311.90" y1="538.24" x2="315.2" y2="538.24" stroke="#000" stroke-width="1.7"/>
<line x1="311.90" y1="534.04" x2="315.2" y2="534.04" stroke="#000" stroke-width="1.7"/>
<line x1="311.90" y1="530.61" x2="315.2" y2="530.61" stroke="#000" stroke-width="1.7"/>
<line x1="311.90" y1="527.71" x2="315.2" y2="527.71" stroke="#000" stroke-width="1.7"/>
<line x1="311.90" y1="525.20" x2="315.2" y2="525.20" stroke="#000" stroke-width="1.7"/>
<line x1="311.90" y1="522.98" x2="315.2" y2="522.98" stroke="#000" stroke-width="1.7"/>
<line x1="310.50" y1="564.33" x2="315.2" y2="564.33" stroke="#000" stroke-width="2"/>
<text transform="translate(310.10,567.73) scale(0.9,1)" font-size="10.1" text-anchor="end">10</text>
<line x1="311.90" y1="594.62" x2="315.2" y2="594.62" stroke="#000" stroke-width="1.7"/>
<line x1="311.90" y1="586.99" x2="315.2" y2="586.99" stroke="#000" stroke-width="1.7"/>
<line x1="311.90" y1="581.58" x2="315.2" y2="581.58" stroke="#000" stroke-width="1.7"/>
<line x1="311.90" y1="577.38" x2="315.2" y2="577.38" stroke="#000" stroke-width="1.7"/>
<line x1="311.90" y1="573.95" x2="315.2" y2="573.95" stroke="#000" stroke-width="1.7"/>
<line x1="311.90" y1="571.05" x2="315.2" y2="571.05" stroke="#000" stroke-width="1.7"/>
<line x1="311.90" y1="568.53" x2="315.2" y2="568.53" stroke="#000" stroke-width="1.7"/>
<line x1="311.90" y1="566.32" x2="315.2" y2="566.32" stroke="#000" stroke-width="1.7"/>
<line x1="310.50" y1="607.67" x2="315.2" y2="607.67" stroke="#000" stroke-width="2"/>
<text transform="translate(310.50,611.07) scale(0.9,1)" font-size="10.1" text-anchor="end">1</text>
<line x1="311.90" y1="637.96" x2="315.2" y2="637.96" stroke="#000" stroke-width="1.7"/>
<line x1="311.90" y1="630.32" x2="315.2" y2="630.32" stroke="#000" stroke-width="1.7"/>
<line x1="311.90" y1="624.91" x2="315.2" y2="624.91" stroke="#000" stroke-width="1.7"/>
<line x1="311.90" y1="620.71" x2="315.2" y2="620.71" stroke="#000" stroke-width="1.7"/>
<line x1="311.90" y1="617.28" x2="315.2" y2="617.28" stroke="#000" stroke-width="1.7"/>
<line x1="311.90" y1="614.38" x2="315.2" y2="614.38" stroke="#000" stroke-width="1.7"/>
<line x1="311.90" y1="611.87" x2="315.2" y2="611.87" stroke="#000" stroke-width="1.7"/>
<line x1="311.90" y1="609.65" x2="315.2" y2="609.65" stroke="#000" stroke-width="1.7"/>
<line x1="310.50" y1="651.00" x2="315.2" y2="651.00" stroke="#000" stroke-width="2"/>
<text transform="translate(309.90,654.40) scale(0.9,1)" font-size="10.1" text-anchor="end">0.1</text>
<rect x="324.15" y="607.22" width="11.8" height="43.78" fill="#fff" stroke="#000" stroke-width="1.7"/>
<line x1="347.95" y1="553.30" x2="347.95" y2="554.40" stroke="#000" stroke-width="1.5"/>
<line x1="344.40" y1="553.30" x2="351.50" y2="553.30" stroke="#000" stroke-width="1.5"/>
<rect x="342.05" y="555.25" width="11.8" height="95.75" fill="#a6a6a6" stroke="#000" stroke-width="1.7"/>
<line x1="365.85" y1="547.05" x2="365.85" y2="550.00" stroke="#000" stroke-width="1.5"/>
<line x1="362.30" y1="547.05" x2="369.40" y2="547.05" stroke="#000" stroke-width="1.5"/>
<rect x="359.95" y="550.85" width="11.8" height="100.15" fill="#000" stroke="#000" stroke-width="1.7"/>
<line x1="347.70" y1="651" x2="347.70" y2="656.8" stroke="#000" stroke-width="1.8"/>
<text x="326.70" y="670.4" font-size="10.6">Jak2</text>
<text transform="translate(352.80,665.65) scale(1.03,1)" font-size="7.9">+/+</text>
<rect x="389.45" y="607.22" width="11.8" height="43.78" fill="#fff" stroke="#000" stroke-width="1.7"/>
<line x1="413.25" y1="584.90" x2="413.25" y2="592.10" stroke="#000" stroke-width="1.5"/>
<line x1="409.70" y1="584.90" x2="416.80" y2="584.90" stroke="#000" stroke-width="1.5"/>
<rect x="407.35" y="592.95" width="11.8" height="58.05" fill="#a6a6a6" stroke="#000" stroke-width="1.7"/>
<line x1="431.15" y1="580.00" x2="431.15" y2="586.90" stroke="#000" stroke-width="1.5"/>
<line x1="427.60" y1="580.00" x2="434.70" y2="580.00" stroke="#000" stroke-width="1.5"/>
<rect x="425.25" y="587.75" width="11.8" height="63.25" fill="#000" stroke="#000" stroke-width="1.7"/>
<line x1="413.00" y1="651" x2="413.00" y2="656.8" stroke="#000" stroke-width="1.8"/>
<text x="390.40" y="670.4" font-size="10.6">Jak2</text>
<text transform="translate(415.80,665.15) scale(1.03,1)" font-size="7.9">FF/FF</text>
<rect x="454.95" y="607.22" width="11.8" height="43.78" fill="#fff" stroke="#000" stroke-width="1.7"/>
<line x1="478.75" y1="601.90" x2="478.75" y2="613.40" stroke="#000" stroke-width="1.5"/>
<line x1="475.20" y1="601.90" x2="482.30" y2="601.90" stroke="#000" stroke-width="1.5"/>
<rect x="472.85" y="614.25" width="11.8" height="36.75" fill="#a6a6a6" stroke="#000" stroke-width="1.7"/>
<line x1="496.65" y1="596.30" x2="496.65" y2="607.50" stroke="#000" stroke-width="1.5"/>
<line x1="493.10" y1="596.30" x2="500.20" y2="596.30" stroke="#000" stroke-width="1.5"/>
<rect x="490.75" y="608.35" width="11.8" height="42.65" fill="#000" stroke="#000" stroke-width="1.7"/>
<line x1="478.50" y1="651" x2="478.50" y2="656.8" stroke="#000" stroke-width="1.8"/>
<text x="460.00" y="670.4" font-size="10.6">Jak2</text>
<text transform="translate(485.40,665.15) scale(1.03,1)" font-size="7.9">-/-</text>
<line x1="315.2" y1="520" x2="315.2" y2="652" stroke="#000" stroke-width="2"/>
<line x1="310.50" y1="651" x2="512.5" y2="651" stroke="#000" stroke-width="2"/>
<line x1="327.5" y1="506.75" x2="372.5" y2="506.75" stroke="#000" stroke-width="1.9"/>
<text x="350.00" y="507.65" font-size="10.6" font-weight="bold" text-anchor="middle">***</text>
<line x1="327.5" y1="521.05" x2="351.75" y2="521.05" stroke="#000" stroke-width="1.9"/>
<text x="339.62" y="521.95" font-size="10.6" font-weight="bold" text-anchor="middle">***</text>
<line x1="392.5" y1="506.75" x2="438.3" y2="506.75" stroke="#000" stroke-width="1.9"/>
<text x="415.40" y="507.65" font-size="10.6" font-weight="bold" text-anchor="middle">**</text>
<line x1="392.5" y1="521.05" x2="417" y2="521.05" stroke="#000" stroke-width="1.9"/>
<text x="404.75" y="521.95" font-size="10.6" font-weight="bold" text-anchor="middle">**</text>
</svg></body></html>
